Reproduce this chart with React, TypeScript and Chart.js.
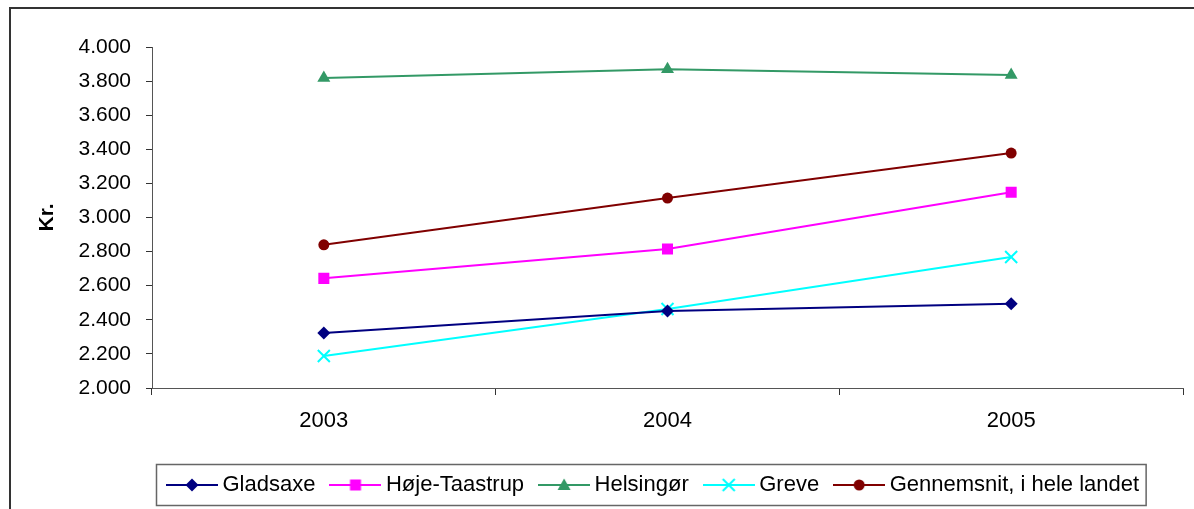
import React, { useEffect, useRef } from 'react';
import { Chart, registerables } from 'chart.js';

Chart.register(...registerables);

const years = ['2003', '2004', '2005'];
const gladsaxe = [2323, 2452, 2494];
const hojeTaastrup = [2643, 2815, 3148];
const helsingor = [3818, 3869, 3836];
const greve = [2188, 2463, 2768];
const gennemsnit = [2840, 3114, 3378];
const seriesNames = ['Gladsaxe', 'Høje-Taastrup', 'Helsingør', 'Greve', 'Gennemsnit, i hele landet'];
const yMin = 2000;
const yMax = 4000;
const yStep = 200;
const yTitle = 'Kr.';

const FONT = "'Liberation Sans', Arial, sans-serif";

const fmt = (v: number) => String(v).replace(/\B(?=(\d{3})+(?!\d))/g, '.');

type Marker = 'diamond' | 'square' | 'triangle' | 'cross' | 'circle';

function makeIcon(color: string, marker: Marker): HTMLCanvasElement {
  const c = document.createElement('canvas');
  c.width = 52;
  c.height = 16;
  const ctx = c.getContext('2d')!;
  const cx = 26;
  const cy = 8;
  ctx.strokeStyle = color;
  ctx.lineWidth = 2;
  ctx.beginPath();
  ctx.moveTo(0, cy);
  ctx.lineTo(52, cy);
  ctx.stroke();
  ctx.fillStyle = color;
  ctx.beginPath();
  if (marker === 'diamond') {
    ctx.moveTo(cx, cy - 6.5);
    ctx.lineTo(cx + 6.5, cy);
    ctx.lineTo(cx, cy + 6.5);
    ctx.lineTo(cx - 6.5, cy);
    ctx.closePath();
    ctx.fill();
  } else if (marker === 'square') {
    ctx.rect(cx - 5.5, cy - 5.5, 11, 11);
    ctx.fill();
  } else if (marker === 'triangle') {
    ctx.moveTo(cx, cy - 6.5);
    ctx.lineTo(cx + 6.5, cy + 5);
    ctx.lineTo(cx - 6.5, cy + 5);
    ctx.closePath();
    ctx.fill();
  } else if (marker === 'cross') {
    ctx.moveTo(cx - 6, cy - 6);
    ctx.lineTo(cx + 6, cy + 6);
    ctx.moveTo(cx + 6, cy - 6);
    ctx.lineTo(cx - 6, cy + 6);
    ctx.stroke();
  } else {
    ctx.arc(cx, cy, 5.5, 0, Math.PI * 2);
    ctx.fill();
  }
  return c;
}

export default function App() {
  const ref = useRef<HTMLCanvasElement | null>(null);

  useEffect(() => {
    if (!ref.current) return;
    const colors = ['#000080', '#FF00FF', '#339966', '#00FFFF', '#800000'];
    const markers: Marker[] = ['diamond', 'square', 'triangle', 'cross', 'circle'];
    const icons = colors.map((c, i) => makeIcon(c, markers[i]));
    const seriesData = [gladsaxe, hojeTaastrup, helsingor, greve, gennemsnit];
    const pointStyles = ['rectRot', 'rect', 'triangle', 'crossRot', 'circle'];
    const pointRadii = [6.5, 7.8, 7.5, 8.5, 5.5];

    const borderPlugin = {
      id: 'borders',
      afterDraw(chart: any) {
        const ctx = chart.ctx;
        ctx.save();
        ctx.strokeStyle = '#333333';
        ctx.lineWidth = 2;
        ctx.strokeRect(10, 8, 1300, 700);
        const lg = chart.legend;
        if (lg && lg.legendHitBoxes && lg.legendHitBoxes.length) {
          const hb = lg.legendHitBoxes;
          const first = hb[0];
          const last = hb[hb.length - 1];
          const left = first.left - 16;
          const right = last.left + last.width + 7;
          const cy = first.top + first.height / 2;
          ctx.strokeStyle = '#666666';
          ctx.lineWidth = 1.5;
          ctx.strokeRect(left, cy - 20.5, right - left, 41);
        }
        ctx.restore();
      },
    };

    const chart = new Chart(ref.current, {
      type: 'line',
      data: {
        labels: years,
        datasets: seriesData.map((d, i) => ({
          label: seriesNames[i],
          data: d,
          borderColor: colors[i],
          backgroundColor: colors[i],
          borderWidth: 2,
          tension: 0,
          pointStyle: pointStyles[i] as any,
          pointRadius: pointRadii[i],
          pointHoverRadius: pointRadii[i],
          pointBackgroundColor: colors[i],
          pointBorderColor: colors[i],
          pointBorderWidth: markers[i] === 'cross' ? 2 : 0,
        })),
      },
      options: {
        animation: false,
        responsive: false,
        events: [],
        layout: { padding: { left: 0, top: 47, right: 11, bottom: 3 } },
        plugins: {
          tooltip: { enabled: false },
          legend: {
            position: 'bottom',
            fullSize: false,
            align: 'start',
            labels: {
              usePointStyle: true,
              pointStyleWidth: 39,
              padding: 20.5,
              color: '#000',
              font: { family: FONT, size: 22 },
              generateLabels: (ch: any) =>
                ch.data.datasets.map((ds: any, i: number) => ({
                  text: ds.label,
                  pointStyle: icons[i],
                  fillStyle: colors[i],
                  strokeStyle: colors[i],
                  lineWidth: 0,
                  hidden: false,
                  datasetIndex: i,
                  fontColor: '#000',
                })),
            },
          },
        },
        scales: {
          x: {
            type: 'category',
            offset: true,
            grid: { offset: true, drawOnChartArea: false, drawTicks: true, tickLength: 7, color: '#333', lineWidth: 1 },
            border: { display: true, color: '#555', width: 1 },
            ticks: { color: '#000', font: { family: FONT, size: 22 }, padding: 13, maxRotation: 0, autoSkip: false },
            afterFit: (s: any) => { s.height = 65.5; },
          },
          y: {
            min: yMin,
            max: yMax,
            grid: { drawOnChartArea: false, drawTicks: true, tickLength: 6, color: '#333', lineWidth: 1 },
            border: { display: true, color: '#555', width: 1 },
            ticks: {
              stepSize: yStep,
              color: '#000',
              font: { family: FONT, size: 21 },
              padding: 15,
              callback: (v: any) => fmt(Number(v)),
            },
            title: {
              display: true,
              text: yTitle,
              color: '#000',
              font: { family: FONT, size: 21, weight: 'bold' },
              padding: { top: 35, bottom: 0 },
            },
            afterFit: (s: any) => { s.width = 152; },
          },
        },
      },
      plugins: [borderPlugin],
    } as any);

    return () => chart.destroy();
  }, []);

  return (
    <div style={{ position: 'fixed', left: 0, top: 0, width: 1194, height: 509, overflow: 'hidden', background: '#fff' }}>
      <canvas ref={ref} width={1194} height={509} style={{ display: 'block' }} />
    </div>
  );
}
